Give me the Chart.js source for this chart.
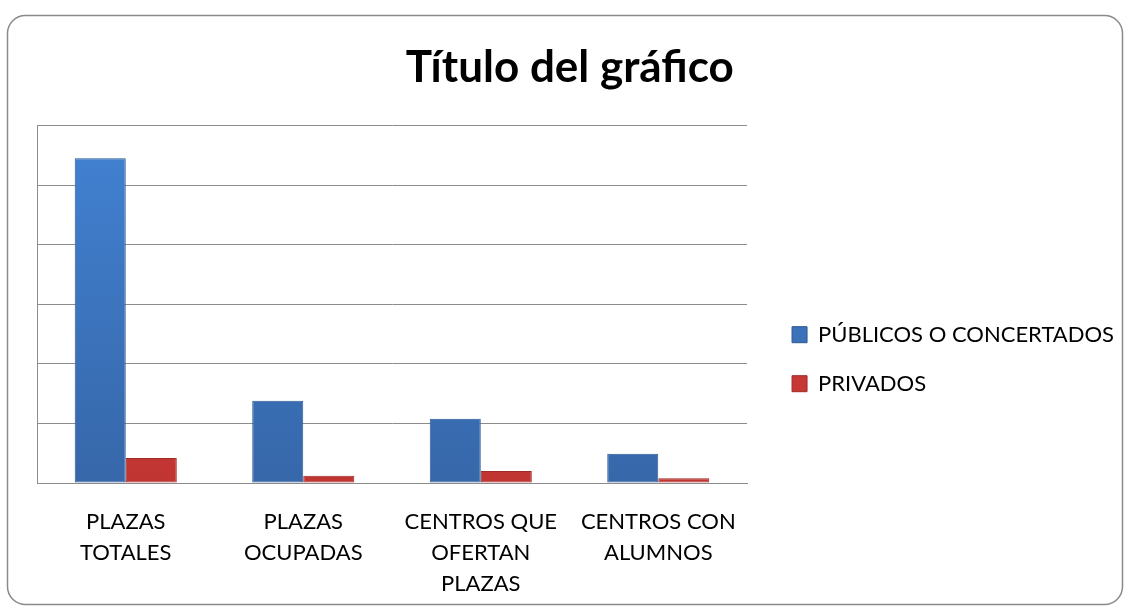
<!DOCTYPE html>
<html>
<head>
<meta charset="utf-8">
<script src="https://cdn.jsdelivr.net/npm/chart.js@4"></script>
<style>
  html, body { margin: 0; padding: 0; background: #fff; }
  #wrap { width: 1130px; height: 610px; }
</style>
</head>
<body>
<div id="wrap"><canvas id="chart" width="1130" height="610"></canvas></div>
<script>
const categories = [['PLAZAS', 'TOTALES'], ['PLAZAS', 'OCUPADAS'], ['CENTROS QUE', 'OFERTAN', 'PLAZAS'], ['CENTROS CON', 'ALUMNOS']];
const publicos = [5.45, 1.38, 1.08, 0.49];
const privados = [0.42, 0.12, 0.2, 0.08];
const seriesNames = ['PÚBLICOS O CONCERTADOS', 'PRIVADOS'];

const FONT = 'Lato, "Noto Sans", sans-serif';

// rounded frame around the whole chart
const framePlugin = {
  id: 'frame',
  beforeDraw(chart) {
    const ctx = chart.ctx;
    ctx.save();
    ctx.fillStyle = '#fff';
    ctx.fillRect(0, 0, chart.width, chart.height);
    ctx.strokeStyle = '#8a8a8a';
    ctx.lineWidth = 1.5;
    ctx.beginPath();
    ctx.roundRect(7.5, 15.5, 1115, 589, 18);
    ctx.stroke();
    ctx.restore();
  }
};

function barFill(chart, top, bottom) {
  const g = chart.ctx.createLinearGradient(0, 126, 0, 484);
  g.addColorStop(0, top);
  g.addColorStop(1, bottom);
  return g;
}

const ctx = document.getElementById('chart');
new Chart(ctx, {
  type: 'bar',
  data: {
    labels: categories,
    datasets: [
      {
        label: seriesNames[0],
        data: publicos,
        backgroundColor: c => barFill(c.chart, '#4282d3', '#3667a9'),
        borderColor: '#2c5690',
        borderWidth: 1,
        borderSkipped: false,
        categoryPercentage: 0.575,
        barPercentage: 1
      },
      {
        label: seriesNames[1],
        data: privados,
        backgroundColor: c => barFill(c.chart, '#d9433f', '#c03431'),
        borderColor: '#9c2a27',
        borderWidth: 1,
        borderSkipped: false,
        categoryPercentage: 0.575,
        barPercentage: 1
      }
    ]
  },
  options: {
    responsive: false,
    animation: false,
    layout: { padding: { left: 37, right: 6, top: 28, bottom: 0 } },
    plugins: {
      title: {
        display: true,
        // trailing spaces nudge the centred title a bit to the left
        text: 'Título del gráfico  ',
        color: '#000',
        font: { family: FONT, size: 44, weight: 'bold' },
        padding: { top: 13, bottom: 31.6 }
      },
      legend: {
        position: 'right',
        maxWidth: 420,
        title: { display: true, text: ' ', padding: 33, font: { size: 12 } },
        labels: {
          color: '#000',
          font: { family: FONT, size: 22 },
          boxWidth: 15,
          boxHeight: 16,
          padding: 27
        }
      },
      tooltip: { enabled: false }
    },
    scales: {
      x: {
        grid: { display: false },
        border: { display: true, color: '#8c8c8c' },
        ticks: {
          color: '#000',
          font: { family: FONT, size: 22, lineHeight: 1.41 },
          padding: 15,
          maxRotation: 0
        },
        afterFit: s => { s.height = 127; }
      },
      y: {
        min: 0,
        max: 6,
        ticks: { stepSize: 1, display: false },
        grid: { color: '#8c8c8c', drawTicks: false },
        border: { display: true, color: '#8c8c8c' },
        afterFit: s => { s.width = 0; }
      },
      gap: {
        position: 'right',
        display: true,
        ticks: { display: false },
        grid: { display: false },
        border: { display: false },
        afterFit: s => { s.width = 18; }
      }
    }
  },
  plugins: [framePlugin]
});
</script>
</body>
</html>
